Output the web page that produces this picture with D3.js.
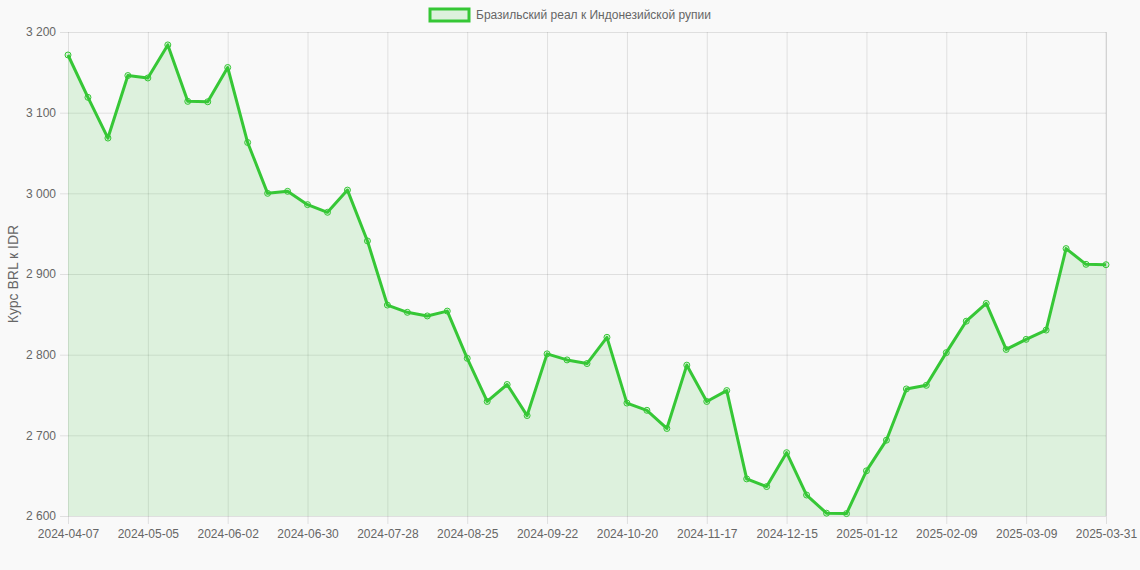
<!DOCTYPE html>
<html>
<head>
<meta charset="utf-8">
<script src="https://cdn.jsdelivr.net/npm/d3@7/dist/d3.min.js"></script>
<style>
    body { margin: 0; background: #f9f9f9; font-family: "Liberation Sans", Arial, Helvetica, sans-serif; }
    #chart { width: 1140px; height: 570px; }
</style>
</head>
<body>
<div id="chart"></div>
<script>
// Weekly dates
var dates = [
    "2024-04-07","2024-04-14","2024-04-21","2024-04-28","2024-05-05","2024-05-12","2024-05-19","2024-05-26",
    "2024-06-02","2024-06-09","2024-06-16","2024-06-23","2024-06-30","2024-07-07","2024-07-14","2024-07-21",
    "2024-07-28","2024-08-04","2024-08-11","2024-08-18","2024-08-25","2024-09-01","2024-09-08","2024-09-15",
    "2024-09-22","2024-09-29","2024-10-06","2024-10-13","2024-10-20","2024-10-27","2024-11-03","2024-11-10",
    "2024-11-17","2024-11-24","2024-12-01","2024-12-08","2024-12-15","2024-12-22","2024-12-29","2025-01-05",
    "2025-01-12","2025-01-19","2025-01-26","2025-02-02","2025-02-09","2025-02-16","2025-02-23","2025-03-02",
    "2025-03-09","2025-03-16","2025-03-23","2025-03-30","2025-03-31"
];

// BRL -> IDR rate
var rates = [
    3171.5, 3119, 3068.5, 3146, 3143, 3184, 3114, 3113.5,
    3156, 3063, 3000, 3002.5, 2986, 2976.5, 3004, 2941,
    2861.5, 2852.5, 2848, 2854, 2795.5, 2742, 2763, 2724.5,
    2801, 2793.5, 2789, 2821.5, 2740, 2731, 2708.5, 2787,
    2742, 2755.5, 2646, 2636.5, 2678.5, 2626, 2603.5, 2603,
    2656, 2694, 2757.5, 2762, 2802.5, 2841.5, 2863.5, 2806.5,
    2819, 2830.5, 2931.5, 2912, 2911.5
];

var yTicks = [2600, 2700, 2800, 2900, 3000, 3100, 3200];
var seriesLabel = "Бразильский реал к Индонезийской рупии";
var yLabel = "Курс BRL к IDR";

RateChart = function(_dates, _rates, _parentElement){
    vis = this;

    this.dates = _dates;
    this.rates = _rates;
    this.parentElement = _parentElement;
    this.svgWidth = 1140;
    this.svgHeight = 570;
    this.margin = { top: 32, right: 34, bottom: 54, left: 68 };
    this.width = vis.svgWidth - vis.margin.left - vis.margin.right;
    this.height = vis.svgHeight - vis.margin.top - vis.margin.bottom;
    this.lineColor = "#36c736";
    this.fillColor = "rgba(54,199,54,0.14)";
    this.textColor = "#666";
    this.gridColor = "rgba(0,0,0,0.1)";

    this.initVis();
};

RateChart.prototype.initVis = function() {
    vis = this;

    vis.svg = d3.select("#" + vis.parentElement).append("svg")
        .attr("width", vis.svgWidth)
        .attr("height", vis.svgHeight)
        .append("g")
        .attr("transform", "translate(" + vis.margin.left + "," + vis.margin.top + ")");

    vis.x = d3.scalePoint()
        .domain(vis.dates)
        .range([0, vis.width]);

    vis.y = d3.scaleLinear()
        .domain([2600, 3200])
        .range([vis.height, 0]);

    var locale = d3.formatLocale({ decimal: ",", thousands: "\u00a0", grouping: [3], currency: ["", ""] });
    var fmt = locale.format(",d");

    // chart.js style autoskip: every 4th label plus the last one
    var shownDates = vis.dates.filter(function(d, i){ return i % 4 === 0 && i < vis.dates.length - 4; });
    shownDates.push(vis.dates[vis.dates.length - 1]);

    vis.xAxis = d3.axisBottom(vis.x)
        .tickValues(shownDates)
        .tickSize(vis.height + 8)
        .tickPadding(5);

    vis.yAxis = d3.axisLeft(vis.y)
        .tickValues(yTicks)
        .tickFormat(fmt)
        .tickSize(vis.width + 8)
        .tickPadding(4);

    var xg = vis.svg.append("g")
        .attr("class", "x-axis")
        .call(vis.xAxis);

    var yg = vis.svg.append("g")
        .attr("class", "y-axis")
        .attr("transform", "translate(" + vis.width + ",0)")
        .call(vis.yAxis);

    [xg, yg].forEach(function(g){
        g.select(".domain").remove();
        g.selectAll(".tick line").attr("stroke", vis.gridColor);
        g.selectAll(".tick text")
            .attr("fill", vis.textColor)
            .attr("font-size", "12px")
            .attr("font-family", "Liberation Sans, Arial, sans-serif");
    });

    // right border line
    vis.svg.append("line")
        .attr("x1", vis.width).attr("x2", vis.width)
        .attr("y1", 0).attr("y2", vis.height)
        .attr("stroke", vis.gridColor);

    // Area + line
    var area = d3.area()
        .x(function(d, i){ return vis.x(vis.dates[i]); })
        .y0(vis.height)
        .y1(function(d){ return vis.y(d); });

    var line = d3.line()
        .x(function(d, i){ return vis.x(vis.dates[i]); })
        .y(function(d){ return vis.y(d); });

    vis.svg.append("path")
        .datum(vis.rates)
        .attr("d", area)
        .attr("fill", vis.fillColor);

    vis.svg.append("path")
        .datum(vis.rates)
        .attr("d", line)
        .attr("fill", "none")
        .attr("stroke", vis.lineColor)
        .attr("stroke-width", 3)
        .attr("stroke-linejoin", "round");

    vis.svg.append("g").selectAll("circle")
        .data(vis.rates)
        .enter()
        .append("circle")
        .attr("cx", function(d, i){ return vis.x(vis.dates[i]); })
        .attr("cy", function(d){ return vis.y(d); })
        .attr("r", 3)
        .attr("fill", vis.fillColor)
        .attr("stroke", vis.lineColor)
        .attr("stroke-width", 1);

    // Y label
    vis.svg.append("text")
        .attr("transform", "rotate(-90)")
        .attr("x", -vis.height / 2)
        .attr("y", -vis.margin.left + 18)
        .attr("text-anchor", "middle")
        .attr("font-size", "14px")
        .attr("fill", vis.textColor)
        .text(yLabel);

    // Legend
    var legend = d3.select("#" + vis.parentElement).select("svg").append("g")
        .attr("transform", "translate(430,9)");

    legend.append("rect")
        .attr("width", 39)
        .attr("height", 12)
        .attr("fill", vis.fillColor)
        .attr("stroke", vis.lineColor)
        .attr("stroke-width", 3);

    legend.append("text")
        .attr("x", 46)
        .attr("y", 10)
        .attr("font-size", "12px")
        .attr("fill", vis.textColor)
        .text(seriesLabel);
};

new RateChart(dates, rates, "chart");
</script>
</body>
</html>
